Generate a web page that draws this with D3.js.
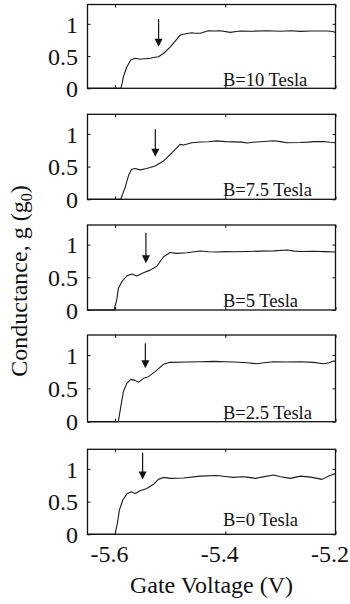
<!DOCTYPE html>
<html>
<head>
<meta charset="utf-8">
<script src="https://cdn.jsdelivr.net/npm/d3@7"></script>
<style>
  html, body { margin: 0; padding: 0; background: #fff; }
  svg { display: block; }
  svg text { font-family: "Liberation Serif", "Times New Roman", Times, serif; }
</style>
</head>
<body>
<svg id="chart" width="350" height="604"></svg>
<script>
// Conductance traces g(Vg), in units of g0, for each magnetic field
const fields = [10, 7.5, 5, 2.5, 0];

const traceB10 = [
  [-5.65, 0], [-5.5896, 0], [-5.587, 0.08], [-5.5849, 0.18], [-5.5787, 0.33], [-5.5715, 0.44],
  [-5.5636, 0.467], [-5.5545, 0.45], [-5.548, 0.458], [-5.5424, 0.46], [-5.536, 0.465],
  [-5.5304, 0.478], [-5.5213, 0.49], [-5.5122, 0.54], [-5.5, 0.64], [-5.4818, 0.826],
  [-5.4696, 0.85], [-5.4605, 0.862], [-5.455, 0.855], [-5.4455, 0.853], [-5.4309, 0.893],
  [-5.42, 0.888], [-5.409, 0.893], [-5.3909, 0.868], [-5.38, 0.88], [-5.3727, 0.888],
  [-5.35, 0.886], [-5.3242, 0.892], [-5.30, 0.885], [-5.28, 0.892], [-5.2636, 0.883],
  [-5.245, 0.888], [-5.2151, 0.89], [-5.205, 0.88], [-5.2, 0.866]
];

const traceB75 = [
  [-5.65, 0], [-5.5896, 0], [-5.5814, 0.19], [-5.5753, 0.37], [-5.5696, 0.46], [-5.5636, 0.47],
  [-5.5545, 0.45], [-5.5424, 0.47], [-5.5273, 0.51], [-5.5122, 0.585], [-5.497, 0.71],
  [-5.4818, 0.84], [-5.4758, 0.83], [-5.4606, 0.866], [-5.4455, 0.876], [-5.43, 0.88],
  [-5.4152, 0.893], [-5.40, 0.882], [-5.3849, 0.878], [-5.37, 0.875], [-5.3606, 0.86],
  [-5.35, 0.872], [-5.3364, 0.88], [-5.3121, 0.895], [-5.30, 0.882], [-5.2879, 0.866],
  [-5.2636, 0.868], [-5.25, 0.874], [-5.2394, 0.882], [-5.2212, 0.885], [-5.21, 0.872],
  [-5.2, 0.866]
];

const traceB5 = [
  [-5.65, 0], [-5.6018, 0], [-5.597, 0.15], [-5.594, 0.33], [-5.588, 0.43], [-5.5787, 0.52],
  [-5.5696, 0.55], [-5.5606, 0.52], [-5.5485, 0.57], [-5.5364, 0.61], [-5.5242, 0.67],
  [-5.5121, 0.815], [-5.5, 0.88], [-5.4879, 0.866], [-5.47, 0.875], [-5.4455, 0.902],
  [-5.43, 0.89], [-5.4152, 0.887], [-5.40, 0.893], [-5.3849, 0.89], [-5.36, 0.894],
  [-5.3364, 0.9], [-5.3121, 0.905], [-5.2879, 0.918], [-5.275, 0.9], [-5.2636, 0.895],
  [-5.24, 0.898], [-5.22, 0.893], [-5.2, 0.887]
];

const traceB25 = [
  [-5.65, 0], [-5.594, 0], [-5.5896, 0.225], [-5.5849, 0.45], [-5.5787, 0.575], [-5.5715, 0.635],
  [-5.5636, 0.62], [-5.5576, 0.59], [-5.5485, 0.65], [-5.5394, 0.675], [-5.5273, 0.75],
  [-5.5122, 0.86], [-5.5, 0.89], [-5.47, 0.895], [-5.4455, 0.9], [-5.42, 0.905],
  [-5.40, 0.898], [-5.3849, 0.895], [-5.36, 0.885], [-5.3424, 0.87], [-5.33, 0.885],
  [-5.3121, 0.9], [-5.29, 0.895], [-5.2636, 0.898], [-5.24, 0.89], [-5.2212, 0.87],
  [-5.212, 0.885], [-5.2036, 0.91], [-5.2, 0.905]
];

const traceB0 = [
  [-5.65, 0], [-5.6, 0], [-5.5958, 0.17], [-5.5921, 0.37], [-5.586, 0.525], [-5.5787, 0.615],
  [-5.5709, 0.65], [-5.5636, 0.625], [-5.5545, 0.667], [-5.5424, 0.70], [-5.5303, 0.765],
  [-5.5212, 0.84], [-5.5121, 0.87], [-5.5, 0.855], [-5.4758, 0.86], [-5.4455, 0.89],
  [-5.4152, 0.9], [-5.40, 0.885], [-5.3849, 0.87], [-5.37, 0.88], [-5.3606, 0.875],
  [-5.345, 0.855], [-5.3364, 0.87], [-5.3121, 0.906], [-5.30, 0.88], [-5.2818, 0.855],
  [-5.2636, 0.89], [-5.245, 0.875], [-5.2242, 0.84], [-5.2121, 0.89], [-5.2, 0.93]
];

const traces = [traceB10, traceB75, traceB5, traceB25, traceB0];

// Arrow markers: gate voltage and the conductance span (tail, tip) of each arrow
const arrowVoltage = [-5.521, -5.527, -5.544, -5.545, -5.550];
const arrowTail = [1.074, 1.07, 1.18, 1.175, 1.248];
const arrowTip = [0.645, 0.65, 0.714, 0.80, 0.84];

// Axis ticks
const xTicks = [-5.6, -5.4, -5.2];
const yTicks = [0, 0.5, 1];
const xTickLabels = ["-5.6", "-5.4", "-5.2"];
const yTickLabels = ["0", "0.5", "1"];

// Panel geometry
const left = 87.5, right = 335.5;
const panelTops = [4.5, 114.3, 225, 335, 449.3];
const panelHeights = [83.8, 85, 85, 86.7, 85];
const labelLift = [2.5, 3.3, 2.7, 2.5, 8.3];

const svg = d3.select("#chart");
const x = d3.scaleLinear().domain([-5.65, -5.2]).range([left, right]);

const line = d3.line();

fields.forEach((b, i) => {
  const top = panelTops[i], h = panelHeights[i], bottom = top + h;
  const y = d3.scaleLinear().domain([0, 1.3]).range([bottom, top]);
  const g = svg.append("g");

  // inward ticks on all four sides
  const tickStyle = sel => {
    sel.attr("font-family", null).attr("font-size", null);
    sel.select(".domain").remove();
    sel.selectAll(".tick line").attr("stroke", "#111").attr("stroke-width", 1);
  };
  const isLast = i === fields.length - 1;

  g.append("g").attr("transform", `translate(${left},0)`)
    .call(d3.axisLeft(y).tickValues(yTicks).tickSizeInner(-3).tickSizeOuter(0).tickPadding(9.5)
      .tickFormat((d, k) => yTickLabels[k]))
    .call(tickStyle)
    .call(s => s.selectAll("text").attr("font-size", 24).attr("fill", "#111").attr("dy", "0.34em"));

  g.append("g").attr("transform", `translate(${right},0)`)
    .call(d3.axisRight(y).tickValues(yTicks).tickSizeInner(-3).tickSizeOuter(0).tickFormat(""))
    .call(tickStyle);

  g.append("g").attr("transform", `translate(0,${top})`)
    .call(d3.axisTop(x).tickValues(xTicks).tickSizeInner(-3).tickSizeOuter(0).tickFormat(""))
    .call(tickStyle);

  g.append("g").attr("transform", `translate(0,${bottom})`)
    .call(d3.axisBottom(x).tickValues(xTicks).tickSizeInner(-3).tickSizeOuter(0).tickPadding(11)
      .tickFormat((d, k) => isLast ? xTickLabels[k] : ""))
    .call(tickStyle)
    .call(s => s.selectAll("text").attr("font-size", 24).attr("fill", "#111").attr("dx", -6));

  // conductance trace
  g.append("path")
    .attr("d", line(traces[i].map(d => [x(d[0]), y(d[1])])))
    .attr("fill", "none")
    .attr("stroke", "#1a1a1a")
    .attr("stroke-width", 1.1)
    .attr("stroke-linejoin", "round");

  // frame
  g.append("rect")
    .attr("x", left).attr("y", top)
    .attr("width", right - left).attr("height", h)
    .attr("fill", "none").attr("stroke", "#111").attr("stroke-width", 1.3);

  // arrow pointing down at the shoulder
  const ax = x(arrowVoltage[i]);
  const yTail = y(arrowTail[i]), yTip = y(arrowTip[i]);
  const headH = 8, headW = 4;
  g.append("line")
    .attr("x1", ax).attr("x2", ax)
    .attr("y1", yTail).attr("y2", yTip - headH + 1)
    .attr("stroke", "#111").attr("stroke-width", 1.2);
  g.append("path")
    .attr("d", `M${ax - headW},${yTip - headH}L${ax + headW},${yTip - headH}L${ax},${yTip}Z`)
    .attr("fill", "#111");

  // field label
  g.append("text")
    .attr("x", left + 135.5)
    .attr("y", bottom - labelLift[i])
    .attr("font-size", 18.5)
    .attr("fill", "#111")
    .text(`B=${b} Tesla`);
});

// axis titles
svg.append("text")
  .attr("x", (left + right) / 2)
  .attr("y", 593)
  .attr("text-anchor", "middle")
  .attr("font-size", 24)
  .attr("fill", "#111")
  .text("Gate Voltage (V)");

const yTitle = svg.append("text")
  .attr("transform", "translate(27,281) rotate(-90)")
  .attr("text-anchor", "middle")
  .attr("font-size", 24)
  .attr("fill", "#111");
yTitle.append("tspan").text("Conductance, g (g");
yTitle.append("tspan").attr("font-size", 16).attr("dy", 5).text("0");
yTitle.append("tspan").attr("dy", -5).text(")");
</script>
</body>
</html>
